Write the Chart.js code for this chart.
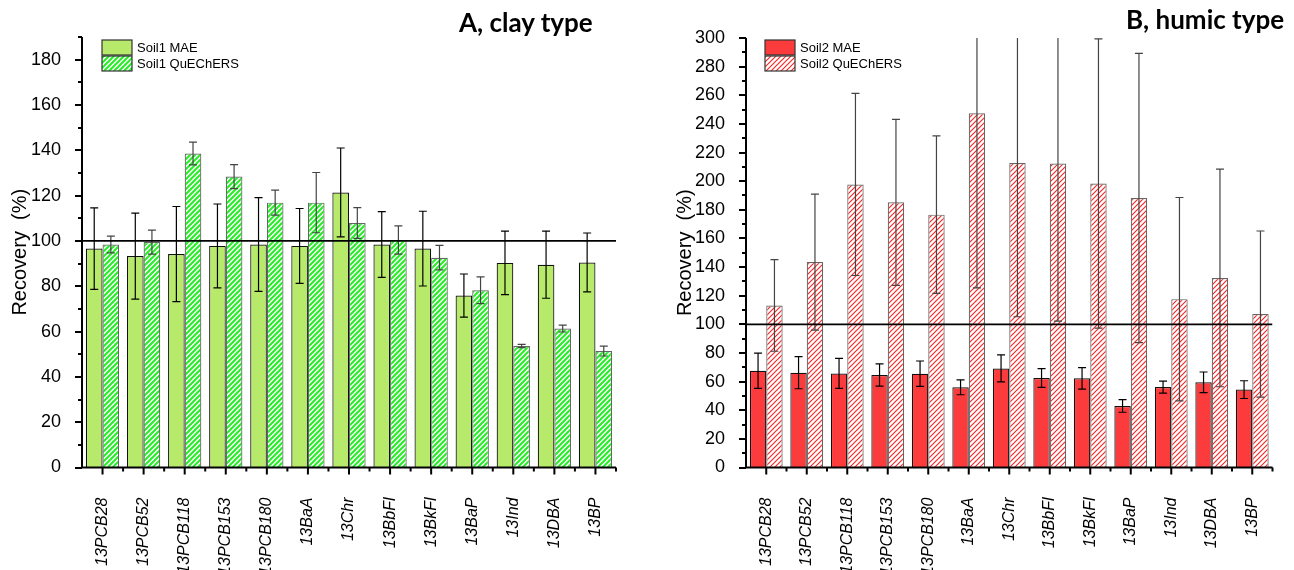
<!DOCTYPE html>
<html>
<head>
<meta charset="utf-8">
<script src="https://cdn.jsdelivr.net/npm/chart.js@4.4.1/dist/chart.umd.min.js"></script>
<style>
  html, body { margin: 0; padding: 0; background: #fff; }
  #wrap { position: relative; width: 1294px; height: 570px; overflow: hidden; }
  .panel { position: absolute; top: 0; width: 647px; height: 570px; }
  .title { position: absolute; font-family: Lato, "Open Sans", sans-serif; font-weight: bold; font-size: 26px; line-height: 1; color: #000; white-space: nowrap; }
</style>
</head>
<body>
<div id="wrap">
  <div class="panel" style="left:0"><canvas id="clay" width="647" height="570"></canvas></div>
  <div class="panel" style="left:647px"><canvas id="humic" width="647" height="570"></canvas></div>
  <div class="title" style="left:459px; top:9px">A, clay type</div>
  <div class="title" style="left:1126px; top:6px">B, humic type</div>
</div>
<script>
const categories = ['13PCB28', '13PCB52', '13PCB118', '13PCB153', '13PCB180', '13BaA', '13Chr',
  '13BbFl', '13BkFl', '13BaP', '13Ind', '13DBA', '13BP'];

// soil 1, clay type
const soil1Mae = [96.6, 93.3, 94.2, 97.8, 98.4, 97.8, 121.4, 98.4, 96.6, 75.9, 90.3, 89.5, 90.5];
const soil1MaeErr = [18, 19, 21, 18.5, 20.7, 16.5, 19.6, 14.5, 16.5, 9.5, 14, 14.8, 13];
const soil1Que = [98.4, 99.5, 138.6, 128.4, 116.9, 116.9, 107.9, 100.4, 92.6, 78.2, 53.6, 61.3, 51.4];
const soil1QueErr = [3.7, 5.3, 5, 5.3, 5.5, 13.3, 6.8, 6.2, 5.4, 5.9, 0.7, 1.5, 2.2];

// soil 2, humic type
const soil2Mae = [67.6, 66.2, 65.7, 64.6, 65.5, 56, 69.2, 62.5, 62.3, 43, 56.2, 59.5, 54.4];
const soil2MaeErr = [12.3, 11.2, 10.5, 7.8, 8.9, 5.2, 9.4, 6.5, 7.5, 4.4, 4.2, 7.2, 6.2];
const soil2Que = [113.2, 143.5, 197.7, 185.2, 176.6, 247.4, 212.7, 212.3, 198.4, 188.2, 117.6, 132.4, 107.2];
const soil2QueErr = [32, 47.5, 63.6, 58, 55, 122, 107.4, 110, 101, 101, 71, 76, 58];

const clayAxisMax = 190;
const humicAxisMax = 300;
const referenceLevel = 100;

function hatch(ctx, color, width) {
  const s = 5;
  const c = document.createElement('canvas');
  c.width = s; c.height = s;
  const g = c.getContext('2d');
  g.fillStyle = '#fff';
  g.fillRect(0, 0, s, s);
  g.strokeStyle = color;
  g.lineWidth = width;
  g.beginPath();
  g.moveTo(-1, s + 1); g.lineTo(s + 1, -1);
  g.moveTo(-1, 1); g.lineTo(1, -1);
  g.moveTo(s - 1, s + 1); g.lineTo(s + 1, s - 1);
  g.stroke();
  return ctx.createPattern(c, 'repeat');
}

const decor = {
  id: 'decor',
  afterDatasetsDraw(chart, args, opts) {
    const { ctx, chartArea: a, scales: { x, y } } = chart;
    ctx.save();
    ctx.beginPath();
    ctx.rect(a.left, a.top, a.right - a.left, a.bottom - a.top);
    ctx.clip();
    // error bars
    opts.errors.forEach((errs, di) => {
      const vals = chart.data.datasets[di].data;
      ctx.strokeStyle = opts.errColors[di];
      ctx.lineWidth = 1.2;
      chart.getDatasetMeta(di).data.forEach((bar, i) => {
        const hi = y.getPixelForValue(vals[i] + errs[i]);
        const lo = y.getPixelForValue(vals[i] - errs[i]);
        ctx.beginPath();
        ctx.moveTo(bar.x, hi); ctx.lineTo(bar.x, lo);
        ctx.moveTo(bar.x - 4, hi); ctx.lineTo(bar.x + 4, hi);
        ctx.moveTo(bar.x - 4, lo); ctx.lineTo(bar.x + 4, lo);
        ctx.stroke();
      });
    });
    // 100 % line
    const yr = y.getPixelForValue(referenceLevel);
    ctx.strokeStyle = '#000';
    ctx.lineWidth = 1.6;
    ctx.beginPath();
    ctx.moveTo(a.left, yr); ctx.lineTo(a.right, yr);
    ctx.stroke();
    ctx.restore();

    // axes and ticks
    ctx.save();
    ctx.strokeStyle = '#000';
    ctx.lineWidth = 2;
    ctx.beginPath();
    ctx.moveTo(a.left, a.top); ctx.lineTo(a.left, a.bottom + 1);
    ctx.moveTo(a.left - 1, a.bottom); ctx.lineTo(a.right, a.bottom);
    for (let v = 0; v <= y.max; v += 10) {
      const py = Math.round(y.getPixelForValue(v));
      const len = v % 20 === 0 ? 7 : 4;
      ctx.moveTo(a.left - len, py); ctx.lineTo(a.left, py);
    }
    const n = chart.data.labels.length;
    const half = (x.getPixelForValue(1) - x.getPixelForValue(0)) / 2;
    for (let i = 0; i < n; i++) {
      const px = x.getPixelForValue(i);
      ctx.moveTo(px, a.bottom); ctx.lineTo(px, a.bottom + 7);
      ctx.moveTo(px + half, a.bottom); ctx.lineTo(px + half, a.bottom + 4);
    }
    ctx.stroke();
    ctx.restore();
  },
  afterDraw(chart, args, opts) {
    const { ctx } = chart;
    ctx.save();
    opts.legend.forEach((item, i) => {
      const bx = opts.legendX, by = opts.legendY + i * 16;
      ctx.fillStyle = chart.data.datasets[i].backgroundColor;
      ctx.fillRect(bx, by, 30, 15);
      ctx.strokeStyle = '#333';
      ctx.lineWidth = 1.2;
      ctx.strokeRect(bx, by, 30, 15);
      ctx.fillStyle = '#000';
      ctx.font = '13px Arial, "Liberation Sans", sans-serif';
      ctx.textBaseline = 'middle';
      ctx.fillText(item, bx + 35, by + 8);
    });
    ctx.restore();
  }
};

function makeChart(id, mae, maeErr, que, queErr, fill, stripe, stripeWidth, labels, yMax, pad, yWidth, legendX, titlePad) {
  const canvas = document.getElementById(id);
  const ctx = canvas.getContext('2d');
  return new Chart(ctx, {
    type: 'bar',
    data: {
      labels: categories,
      datasets: [
        {
          label: labels[0],
          data: mae,
          backgroundColor: fill,
          borderColor: '#111',
          borderWidth: 1.2,
          categoryPercentage: 0.81,
          barPercentage: 1
        },
        {
          label: labels[1],
          data: que,
          backgroundColor: hatch(ctx, stripe, stripeWidth),
          borderColor: '#666',
          borderWidth: 1.2,
          categoryPercentage: 0.81,
          barPercentage: 1
        }
      ]
    },
    options: {
      responsive: false,
      animation: false,
      devicePixelRatio: 1,
      events: [],
      layout: { padding: pad },
      plugins: {
        legend: { display: false },
        tooltip: { enabled: false },
        decor: {
          errors: [maeErr, queErr],
          errColors: ['#000', '#444'],
          legend: labels,
          legendX: legendX,
          legendY: 40
        }
      },
      scales: {
        x: {
          grid: { display: false },
          border: { display: false },
          ticks: {
            minRotation: 90,
            maxRotation: 90,
            autoSkip: false,
            padding: 22,
            color: '#000',
            font: { family: 'Arial, "Liberation Sans", sans-serif', size: 16, style: 'italic' }
          },
          afterFit: s => { s.height = 570 - 467.5 - pad.bottom; }
        },
        y: {
          min: 0,
          max: yMax,
          grid: { display: false },
          border: { display: false },
          ticks: {
            stepSize: 20,
            padding: 13,
            color: '#000',
            font: { family: 'Arial, "Liberation Sans", sans-serif', size: 18 },
            callback: v => (v % 20 === 0 ? v : null)
          },
          title: {
            display: true,
            text: 'Recovery  (%)',
            color: '#000',
            padding: { top: titlePad, bottom: 0 },
            font: { family: 'Arial, "Liberation Sans", sans-serif', size: 20 }
          },
          afterFit: s => { s.width = yWidth; }
        }
      }
    },
    plugins: [decor]
  });
}

makeChart('clay', soil1Mae, soil1MaeErr, soil1Que, soil1QueErr, '#b7ea6b', '#24ee24', 2.0,
  ['Soil1 MAE', 'Soil1 QuEChERS'], clayAxisMax,
  { top: 37, right: 31, left: 0, bottom: 0 }, 82, 102, 8);

makeChart('humic', soil2Mae, soil2MaeErr, soil2Que, soil2QueErr, '#fc3c3c', '#f42a2a', 1.2,
  ['Soil2 MAE', 'Soil2 QuEChERS'], humicAxisMax,
  { top: 38, right: 14, left: 0, bottom: 0 }, 99, 118, 26);
</script>
</body>
</html>
